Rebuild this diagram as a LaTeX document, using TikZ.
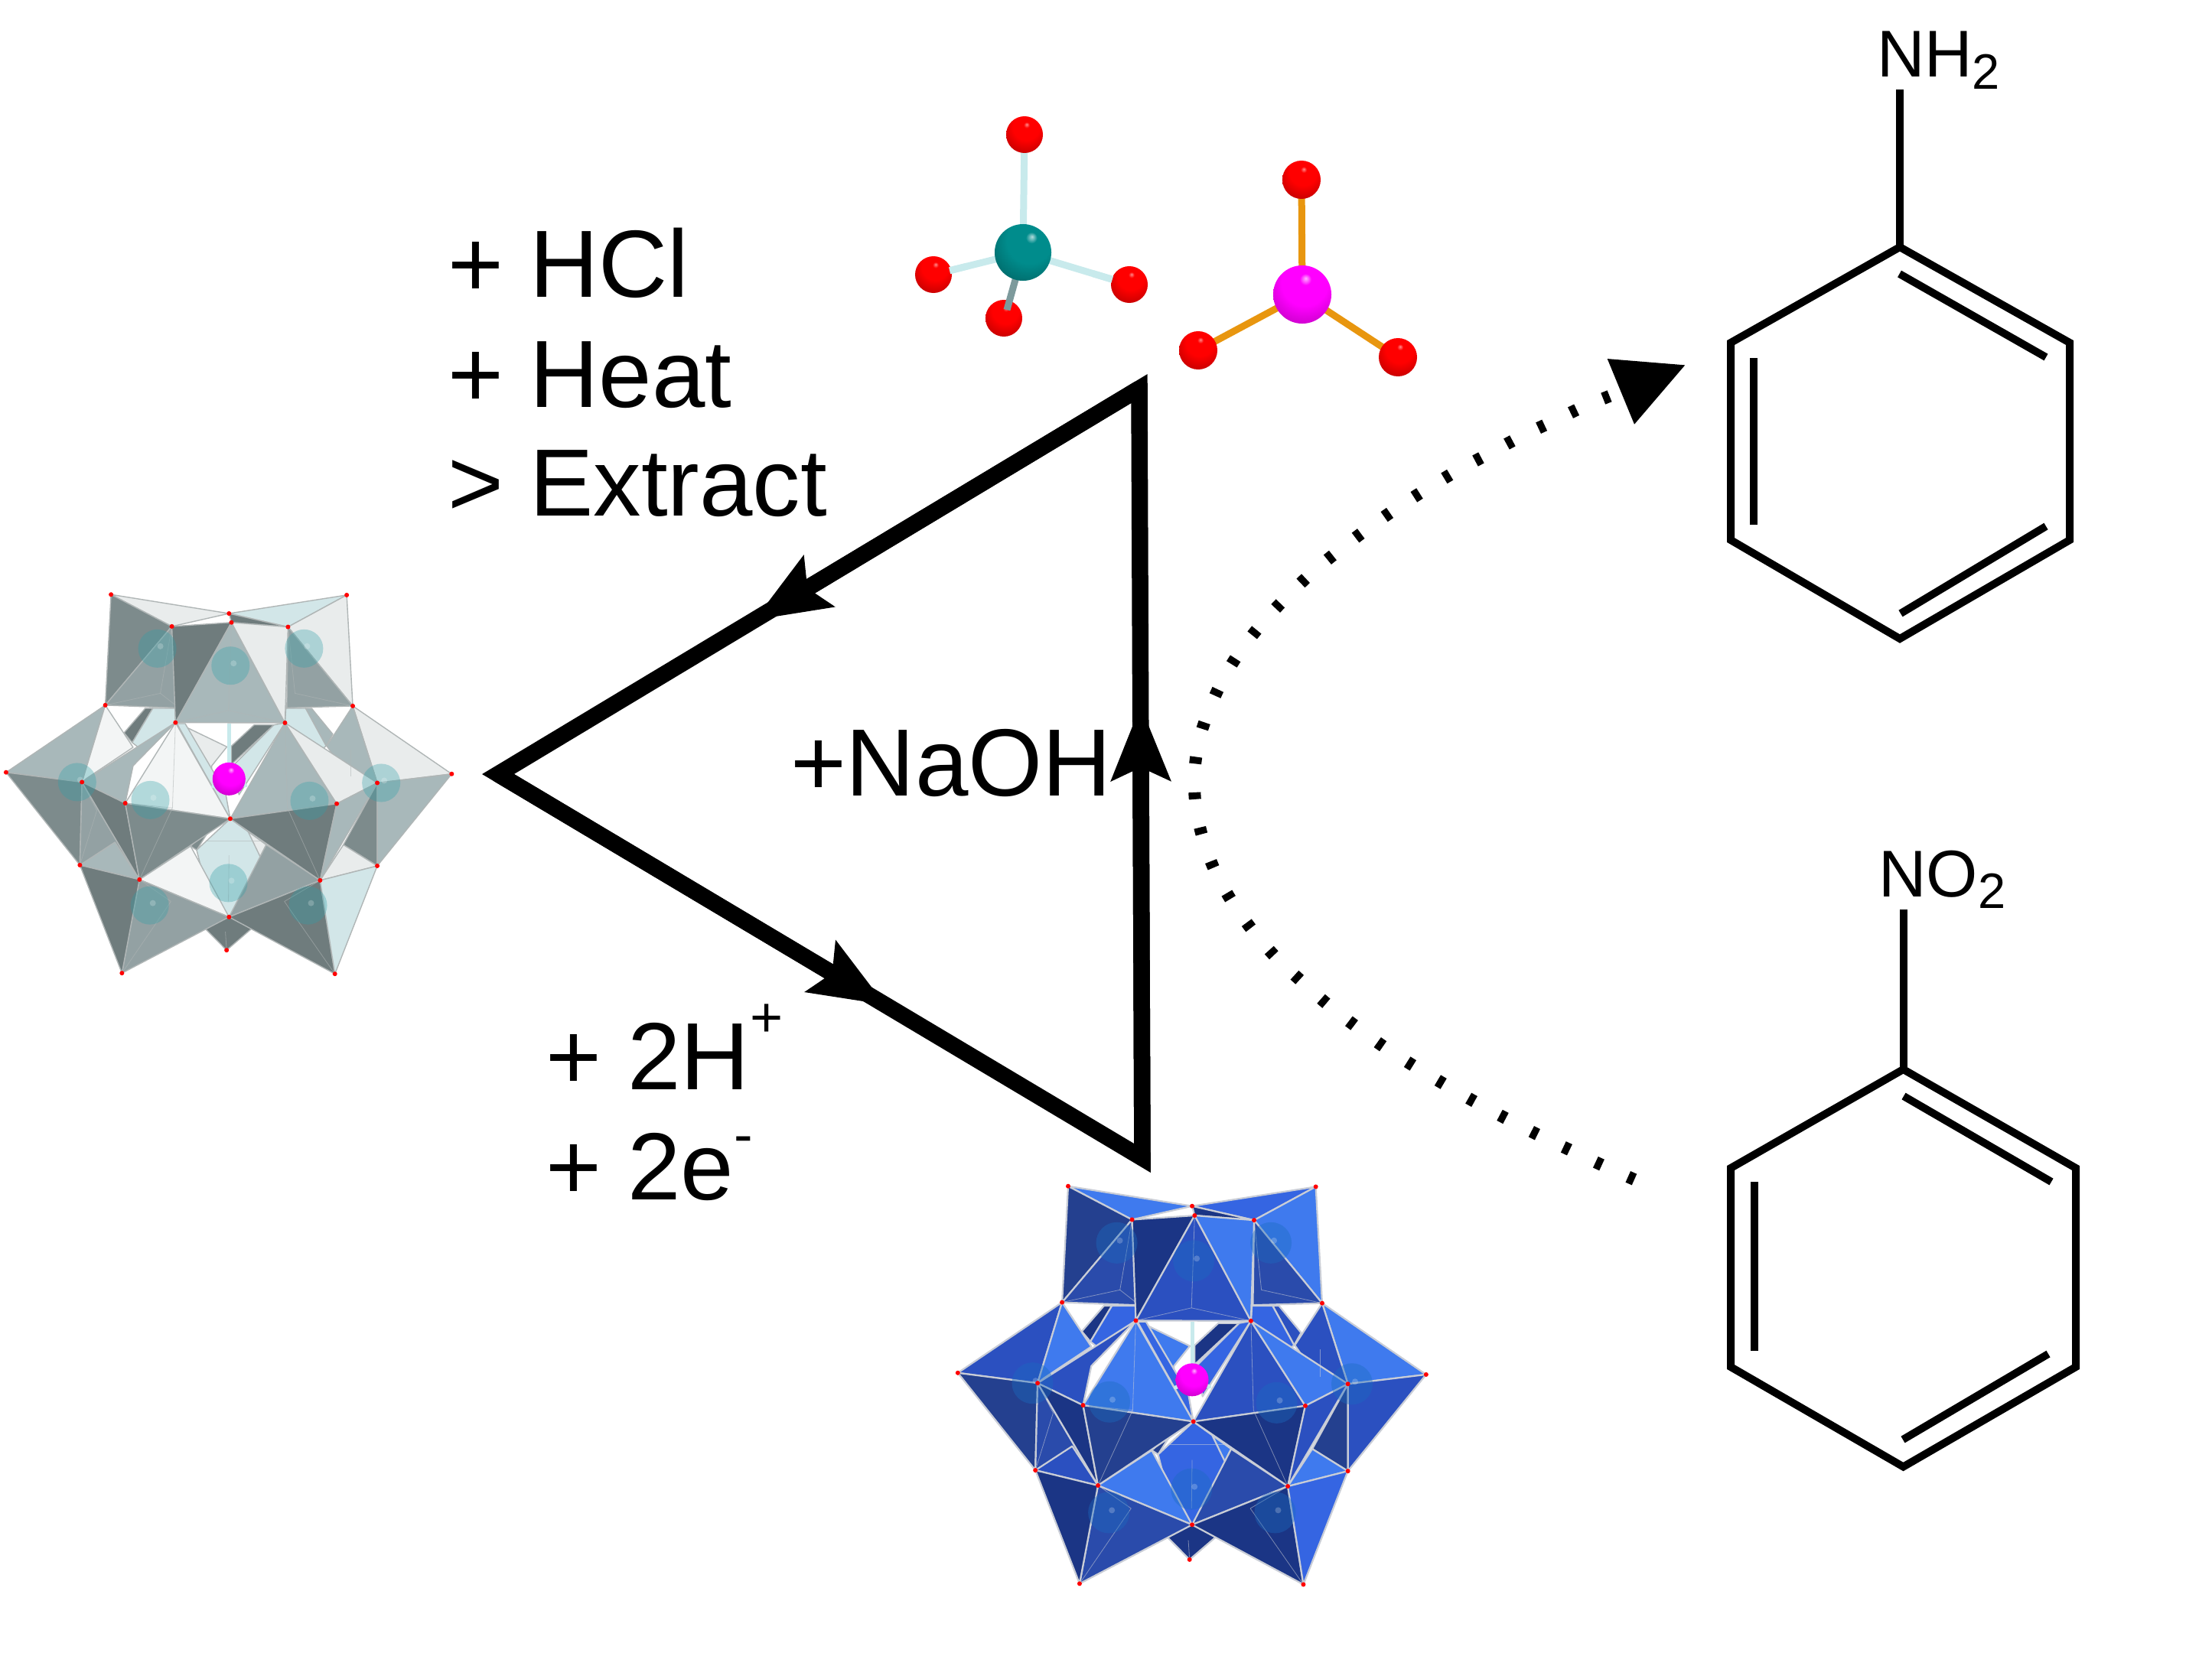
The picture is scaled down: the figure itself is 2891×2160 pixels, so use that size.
\documentclass[tikz,border=0pt]{standalone}
\usepackage{fontspec}
\setmainfont{Liberation Sans}
\usetikzlibrary{arrows.meta,calc}
\definecolor{ballred}{HTML}{FF0000}
\definecolor{ballteal}{HTML}{008C8C}
\definecolor{ballmag}{HTML}{FF00FF}
\definecolor{bondpale}{HTML}{C8EAEC}
\definecolor{bondgrey}{HTML}{7D9A9C}
\definecolor{bondorange}{HTML}{E8960F}
\pgfdeclareradialshading{redball}{\pgfqpoint{3bp}{14bp}}{color(0bp)=(white!55!ballred); color(4bp)=(ballred); color(18bp)=(ballred); color(38bp)=(ballred!72!black); color(58bp)=(ballred!40!black); color(70bp)=(ballred!40!black)}
\pgfdeclareradialshading{tealball}{\pgfqpoint{8bp}{14bp}}{color(0bp)=(white!70!ballteal); color(5bp)=(ballteal); color(20bp)=(ballteal); color(40bp)=(ballteal!70!black); color(60bp)=(ballteal!42!black); color(72bp)=(ballteal!42!black)}
\pgfdeclareradialshading{magball}{\pgfqpoint{3bp}{14bp}}{color(0bp)=(white!70!ballmag); color(5bp)=(ballmag); color(20bp)=(ballmag); color(40bp)=(ballmag!72!black); color(60bp)=(ballmag!48!black); color(72bp)=(ballmag!48!black)}
\tikzset{
  triline/.style={line width=.215cm,line join=miter,miter limit=10},
  triarrow/.style={line width=.215cm,-{Stealth[length=.97cm,width=.75cm,inset=.16cm]}},
  dotline/.style={line width=.16cm,dash pattern=on .09cm off .375cm,-{Triangle[length=.915cm,width=.88cm]}},
  bondline/.style={line width=.1cm,line join=miter},
  bigtext/.style={anchor=base west,inner sep=0pt,outer sep=0pt,font=\fontsize{35.5pt}{36pt}\selectfont},
  chemtext/.style={anchor=base west,inner sep=0pt,outer sep=0pt,font=\fontsize{24.6pt}{25pt}\selectfont},
  thinbond/.style={line width=.09cm,bondpale},
  orbond/.style={line width=.09cm,bondorange},
  oxy/.style={shading=redball},
}
\newcommand{\facepoly}[2]{\filldraw[fill=#1,draw=pEdge,line width=\pEW,line join=round] #2 -- cycle;}
\newcommand{\ghostline}[1]{\draw[pEdge,line width=.008cm,opacity=.55] #1;}
\newcommand{\polyoxo}[3]{%
 \begin{scope}[shift={#1},xscale=#2,yscale=#3]
  \foreach \n/\x/\y in {A/367/50,B/1146/52,C/757/122,D/765/156,E/568/171,F/952/173,G/348/470,H/1166/473,I/580/536,J/942/537,K/20/725,L/1493/731,M/271/762,N/1247/765,O/414/842,P/1113/844,Q/761/901,R/264/1077,S/1247/1080,T/461/1132,U/1058/1135,V/757/1274,W/403/1487,X/1107/1490,Y/749/1400}{\coordinate (v\n) at (\x,\y);}
  \foreach \n/\x/\y in {a/520/255,b/1005/255,c/762/320,d/255/762,e/1260/765,f/497/830,g/1023/833,h/755/1145,i/495/1230,j/1018/1230}{\coordinate (s\n) at (\x,\y);}
  \coordinate (ball) at (757,750);
  \coordinate (stickTop) at (757,540);
  \coordinate (stubL) at (705,778);
  \coordinate (stubR) at (812,775);
  % back layer
  \facepoly{pD}{(410,575)--(480,482)--(505,482)--(437,612)}
  \facepoly{pC}{(437,612)--(505,482)--(580,482)--(vI)--(480,650)}
  \facepoly{pL}{(1100,580)--(1030,482)--(1010,482)--(1078,625)}
  \facepoly{pC}{(1078,625)--(1010,482)--(945,482)--(vJ)--(1050,650)}
  \facepoly{pW}{(600,545)--(750,628)--(700,700)--(700,800)--(vQ)}
  \facepoly{pC}{(585,540)--(612,540)--(745,800)--(vQ)}
  \facepoly{pD}{(765,625)--(840,545)--(905,545)--(765,695)}
  \facepoly{pC}{(905,545)--(vJ)--(790,810)--(770,700)}
  \facepoly{pD}{(680,1320)--(vY)--(830,1320)--(770,1215)--(735,1215)}
  \facepoly{pE}{(630,1005)--(700,930)--(650,1020)}
  \facepoly{pC}{(vQ)--(650,1020)--(690,1200)--(vV)--(830,1200)--(880,1000)}
  \facepoly{pW}{(820,950)--(880,1000)--(860,1045)}
  % upper cap
  \facepoly{pW}{(vA)--(vC)--(vE)}
  \facepoly{pC}{(vB)--(vC)--(vF)}
  \facepoly{pW}{(vB)--(vF)--(vH)}
  \facepoly{pD}{(vC)--(vD)--(vF)}
  \facepoly{pE}{(vA)--(vE)--(vG)}
  \facepoly{pM}{(vE)--(vG)--(580,480)--(575,300)}
  \facepoly{pM}{(vF)--(vH)--(948,480)}
  \facepoly{pD}{(vE)--(vD)--(vI)}
  \facepoly{pL}{(vD)--(vI)--(vJ)}
  \facepoly{pW}{(vD)--(vF)--(vJ)}
  % right outer
  \facepoly{pW}{(vH)--(vN)--(vL)}
  \facepoly{pL}{(vH)--(vN)--(1150,740)--(1080,625)}
  \facepoly{pE}{(vN)--(vS)--(1135,1000)}
  \facepoly{pL}{(vN)--(vL)--(vS)}
  \facepoly{pW}{(vU)--(1135,1000)--(vS)}
  % left outer
  \facepoly{pL}{(vK)--(vG)--(vM)}
  \facepoly{pF}{(vG)--(440,630)--(290,745)--(vM)}
  \facepoly{pE}{(vK)--(vM)--(vR)}
  \facepoly{pM}{(vM)--(vR)--(vT)}
  \facepoly{pL}{(vR)--(380,990)--(vT)}
  % centre
  \facepoly{pL}{(vM)--(vI)--(440,700)--(vO)}
  \facepoly{pF}{(vI)--(vO)--(vQ)}
  \facepoly{pL}{(vJ)--(vQ)--(vP)}
  \facepoly{pW}{(vJ)--(vP)--(vN)}
  \facepoly{pD}{(vM)--(vO)--(vT)}
  \facepoly{pE}{(vO)--(vQ)--(vT)}
  \facepoly{pD}{(vQ)--(vP)--(vU)}
  \facepoly{pL}{(vP)--(vN)--(vU)}
  % lower
  \facepoly{pF}{(vT)--(630,1005)--(vV)}
  \facepoly{pM}{(vV)--(880,1000)--(vU)}
  \facepoly{pM}{(vT)--(vV)--(vW)}
  \facepoly{pD}{(vR)--(vT)--(vW)}
  \facepoly{pD}{(vV)--(vU)--(vX)}
  \facepoly{pC}{(vU)--(vS)--(vX)}
  % seen-through edges
  \ghostline{(vE)--(530,425)--(vG)}
  \ghostline{(530,425)--(580,470)}
  \ghostline{(vF)--(975,425)--(vH)}
  \ghostline{(vD)--(755,490)--(vI)}
  \ghostline{(755,490)--(vJ)}
  \ghostline{(vO)--(570,860)--(vT)}
  \ghostline{(570,860)--(vI)}
  \ghostline{(950,860)--(vJ)}
  \ghostline{(950,860)--(vU)}
  \ghostline{(565,1215)--(vW)}
  \ghostline{(565,1215)--(vT)}
  \ghostline{(940,1215)--(vX)}
  \ghostline{(940,1215)--(vU)}
  \ghostline{(vM)--(320,870)--(vR)}
  \ghostline{(1160,640)--(1160,740)}
  \ghostline{(680,985)--(860,985)}
  \ghostline{(755,1215)--(757,1040)}
  \ghostline{(vY)--(745,1330)}
 \end{scope}
 % spheres seen through the faces
 \foreach \n in {a,b,c,d,e,f,g,h,i,j}{
   \fill[pSph,opacity=\pSphOp] (s\n) circle[radius=\pSphR];
   \fill[white,opacity=.22] ($(s\n)+(4,-3)$) circle[radius=.04cm];
 }
 % central atom
 \draw[line width=.05cm,bondpale] (stickTop) -- (ball);
 \draw[line width=.05cm,bondpale,line cap=round] (stubL) -- (ball);
 \draw[line width=.05cm,bondpale,line cap=round] (stubR) -- (ball);
 \shade[shading=magball] (ball) circle[radius=.215cm];
 \foreach \n in {A,B,C,D,E,F,G,H,I,J,K,L,M,N,O,P,Q,R,S,T,U,V,W,X,Y}{
   \fill[red] (v\n) circle[radius=.03cm];
 }
}
\begin{document}
\begin{tikzpicture}[x=.01cm,y=-.01cm]
\useasboundingbox (0,0) rectangle (2891,2160);

% grey cluster
\begin{scope}
 \definecolor{pD}{HTML}{6F7C7D}\definecolor{pE}{HTML}{7D8B8C}\definecolor{pM}{HTML}{93A1A3}
 \definecolor{pL}{HTML}{A8B8BA}\definecolor{pW}{HTML}{E9ECEC}\definecolor{pF}{HTML}{F3F5F5}
 \definecolor{pC}{HTML}{D2E6E8}\definecolor{pEdge}{HTML}{B0B6B6}\definecolor{pSph}{HTML}{30A0A8}
 \def\pEW{.014cm}\def\pSphOp{.33}\def\pSphR{.25cm}
 \polyoxo{(0,760)}{.3954}{.3444}
\end{scope}

% blue cluster
\begin{scope}
 \definecolor{pD}{HTML}{1B3585}\definecolor{pE}{HTML}{24408F}\definecolor{pM}{HTML}{2A4BAB}
 \definecolor{pL}{HTML}{2B50C0}\definecolor{pW}{HTML}{3F7AEE}\definecolor{pF}{HTML}{3F7AEE}
 \definecolor{pC}{HTML}{3565E2}\definecolor{pEdge}{HTML}{C9CDD6}\definecolor{pSph}{HTML}{1B6BC0}
 \def\pEW{.022cm}\def\pSphOp{.4}\def\pSphR{.27cm}
 \polyoxo{(1243.5,1532.6)}{.4155}{.3616}
\end{scope}

% tetrahedral molecule, teal centre
\coordinate (tc) at (1337,330);
\coordinate (to1) at (1339,176);
\coordinate (to2) at (1220,359);
\coordinate (to3) at (1476,372);
\coordinate (to4) at (1312,416);
\coordinate (to4end) at (1316,405);
\draw[thinbond] (tc) -- (to1);
\draw[thinbond] (tc) -- (to2);
\draw[thinbond] (tc) -- (to3);
\shade[oxy] (to1) circle[radius=.24cm];
\shade[oxy] (to2) circle[radius=.24cm];
\shade[oxy] (to3) circle[radius=.24cm];
\shade[oxy] (to4) circle[radius=.24cm];
\draw[line width=.09cm,bondgrey] (tc) -- (to4end);
\shade[shading=tealball] (tc) circle[radius=.37cm];
\draw[thinbond] ($(tc)!.62!(to2)$) -- ($(tc)!.82!(to2)$);
\draw[thinbond] ($(tc)!.66!(to3)$) -- ($(tc)!.84!(to3)$);

% tetrahedral molecule, magenta centre
\coordinate (mc) at (1702,385);
\coordinate (mo1) at (1701,235);
\coordinate (mo2) at (1566,458);
\coordinate (mo3) at (1827,467);
\draw[orbond] (mc) -- (mo1);
\draw[orbond] (mc) -- (mo2);
\draw[orbond] (mc) -- (mo3);
\shade[shading=magball] (mc) circle[radius=.38cm];
\shade[oxy] (mo1) circle[radius=.25cm];
\shade[oxy] (mo2) circle[radius=.25cm];
\shade[oxy] (mo3) circle[radius=.25cm];

% reaction triangle
\coordinate (ta) at (1489,508);
\coordinate (tl) at (651,1012);
\coordinate (tb) at (1493,1514);
\draw[triline] (ta) -- (tl) -- (tb) -- cycle;
\coordinate (tipU) at ($(ta)!.6007!(tl)$);
\coordinate (tipL) at ($(tl)!.6014!(tb)$);
\coordinate (tipR) at ($(tb)!.5885!(ta)$);
\draw[triarrow] (ta) -- (tipU);
\draw[triarrow] (tl) -- (tipL);
\draw[triarrow] (tb) -- (tipR);

% labels
\node[bigtext] (lhcl) at (585,388) {+ HCl};
\node[bigtext] (lheat) at (585,532) {+ Heat};
\node[bigtext] (lext) at (585,674) {> Extract};
\node[bigtext] (lnaoh) at (1033,1040.6) {+NaOH};
\node[bigtext] (lh) at (713,1424) {+ 2H\raisebox{.68cm}{\fontsize{21pt}{21pt}\selectfont +}};
\node[bigtext] (le) at (713,1568) {+ 2e\raisebox{.59cm}{\fontsize{21pt}{21pt}\selectfont -}};

% dotted connector between the two rings
\coordinate (dotStart) at (2136,1542);
\coordinate (dotTip) at (2203,477);
\draw[dotline] plot[smooth,tension=.5] coordinates {(dotStart) (2093.5,1523) (2051,1503) (2009,1483) (1968,1462) (1927,1440) (1887,1417) (1847,1393) (1808,1368) (1771,1341) (1735,1313) (1700,1282) (1667,1251) (1637.5,1217) (1611,1180) (1589,1141) (1573,1099.5) (1563,1056) (1561,1012) (1567,968) (1581,926) (1600,885) (1624,847) (1652,812) (1683,779) (1716.5,747) (1752,718) (1789,690) (1826,664) (1865,639) (1905,615) (1946,593) (1987,571) (2029,551) (2071,531) (2115.5,513) (dotTip)};

% aniline
\coordinate (a1) at (2483,323);
\coordinate (a2) at (2705,448);
\coordinate (a3) at (2705,706);
\coordinate (a4) at (2483,835);
\coordinate (a5) at (2262,706);
\coordinate (a6) at (2262,448);
\draw[bondline] (a1) -- (a2) -- (a3) -- (a4) -- (a5) -- (a6) -- cycle;
\coordinate (ad1) at (2482.5,358);
\coordinate (ad2) at (2674,467);
\coordinate (ad3) at (2292,468);
\coordinate (ad4) at (2292,686);
\coordinate (ad5) at (2484,802);
\coordinate (ad6) at (2674,688);
\draw[bondline] (ad1) -- (ad2);
\draw[bondline] (ad3) -- (ad4);
\draw[bondline] (ad5) -- (ad6);
\coordinate (astem) at (2483,117);
\draw[bondline] (astem) -- (a1);
\node[chemtext] (lnh) at (2453,100) {NH\raisebox{-.16cm}{\fontsize{18.5pt}{19pt}\selectfont 2}};

% nitrobenzene
\coordinate (n1) at (2487.5,1398);
\coordinate (n2) at (2713,1527);
\coordinate (n3) at (2713,1787);
\coordinate (n4) at (2487.5,1917.5);
\coordinate (n5) at (2262,1787);
\coordinate (n6) at (2262,1527);
\draw[bondline] (n1) -- (n2) -- (n3) -- (n4) -- (n5) -- (n6) -- cycle;
\coordinate (nd1) at (2488,1433);
\coordinate (nd2) at (2681,1545);
\coordinate (nd3) at (2293,1545);
\coordinate (nd4) at (2293,1766);
\coordinate (nd5) at (2487,1882);
\coordinate (nd6) at (2677,1770);
\draw[bondline] (nd1) -- (nd2);
\draw[bondline] (nd3) -- (nd4);
\draw[bondline] (nd5) -- (nd6);
\coordinate (nstem) at (2487.5,1189);
\draw[bondline] (nstem) -- (n1);
\node[chemtext] (lno) at (2455.4,1172) {NO\raisebox{-.15cm}{\fontsize{18.5pt}{19pt}\selectfont 2}};
\end{tikzpicture}
\end{document}
